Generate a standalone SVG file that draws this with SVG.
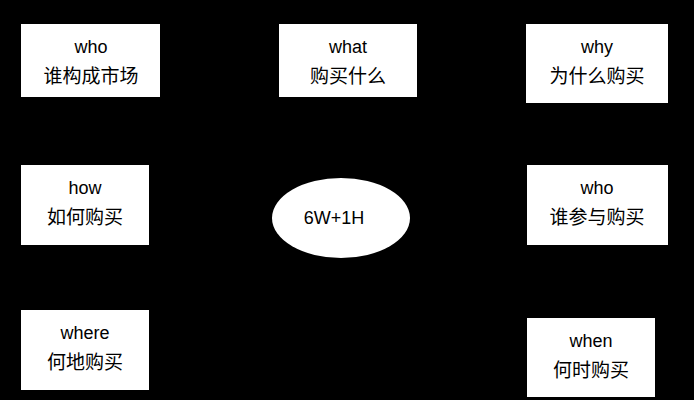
<svg xmlns="http://www.w3.org/2000/svg" width="694" height="400" viewBox="0 0 694 400">
<style>
.b{fill:#fff;stroke:none}
.t{font-family:"Liberation Sans","Noto Sans CJK SC",sans-serif;font-size:18px;fill:#000;text-anchor:middle}
.c{font-size:19px}
</style>
<rect width="694" height="400" fill="#000"/>
<g id="n1"><rect class="b" x="21" y="24" width="139" height="73"/><text class="t" x="91" y="53">who</text><text class="t c" x="91" y="83">谁构成市场</text></g>
<g id="n2"><rect class="b" x="279" y="24" width="138" height="73"/><text class="t" x="348" y="53">what</text><text class="t c" x="348" y="83">购买什么</text></g>
<g id="n3"><rect class="b" x="526" y="24" width="142" height="79"/><text class="t" x="597" y="53">why</text><text class="t c" x="597" y="83">为什么购买</text></g>
<g id="n4"><rect class="b" x="21" y="165" width="128" height="80"/><text class="t" x="85" y="194">how</text><text class="t c" x="85" y="224">如何购买</text></g>
<g id="n5"><rect class="b" x="527" y="165" width="141" height="80"/><text class="t" x="597" y="194">who</text><text class="t c" x="597" y="224">谁参与购买</text></g>
<g id="n6"><rect class="b" x="21" y="310" width="128" height="80"/><text class="t" x="85" y="339">where</text><text class="t c" x="85" y="369">何地购买</text></g>
<g id="n7"><rect class="b" x="527" y="318" width="128" height="79"/><text class="t" x="591" y="347">when</text><text class="t c" x="591" y="377">何时购买</text></g>
<g id="n8"><ellipse class="b" cx="341" cy="218" rx="69" ry="40"/><text class="t" x="334" y="224">6W+1H</text></g>
<g id="connectors"></g>
</svg>
